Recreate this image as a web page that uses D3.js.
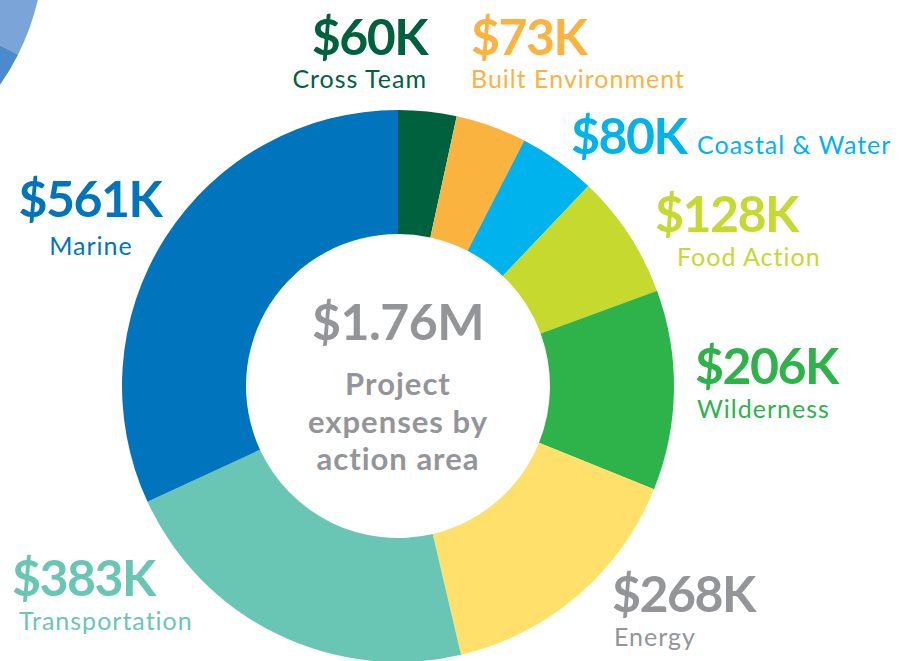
<!DOCTYPE html>
<html>
<head>
<meta charset="utf-8">
<script src="https://cdn.jsdelivr.net/npm/d3@7/dist/d3.min.js"></script>
<style>
  html, body { margin: 0; padding: 0; background: #ffffff; }
  svg { display: block; }
  text { font-family: "Lato", "Century Gothic", "DejaVu Sans", sans-serif; }
</style>
</head>
<body>
<svg id="chart" width="905" height="661"></svg>
<script>
// Project expenses by action area, in thousands of dollars (clockwise from 12 o'clock)
const categories = ["Cross Team", "Built Environment", "Coastal & Water", "Food Action",
                    "Wilderness", "Energy", "Transportation", "Marine"];
const values = [60, 73, 80, 128, 206, 268, 383, 561];
const sliceColors = ["#00613f", "#fbb33f", "#00b3ec", "#c5d92e",
                     "#2db34a", "#ffe06a", "#6ac6b4", "#0074bd"];
const labelColors = ["#00613f", "#fbb33f", "#00b3ec", "#c5d92e",
                     "#2db34a", "#939598", "#6ac6b4", "#0074bd"];
const centerLines = ["Project", "expenses by", "action area"];

// Part of a neighbouring pie that bleeds in at the top-left corner
const neighbourShares = [0.55, 0.45];
const neighbourColors = ["#7ba4d9", "#4b8bcb"];

// Label placement: value line and name line, per category
const labelLayout = [
  { x: 427, vy: 55,  nx: 427, ny: 88,  anchor: "end" },
  { x: 471, vy: 55,  nx: 471, ny: 88,  anchor: "start" },
  { x: 571, vy: 154, nx: 697, ny: 154, anchor: "start" },
  { x: 655, vy: 232, nx: 677, ny: 266, anchor: "start" },
  { x: 695, vy: 384, nx: 697, ny: 418, anchor: "start" },
  { x: 612, vy: 612, nx: 614, ny: 646, anchor: "start" },
  { x: 12,  vy: 596, nx: 19,  ny: 630, anchor: "start" },
  { x: 90,  vy: 217, nx: 91,  ny: 255, anchor: "middle" }
];

const svg = d3.select("#chart");
const cx = 398, cy = 386, outerR = 276, innerR = 152;

// neighbouring pie fragment
const nb = svg.append("g").attr("transform", "translate(-200,-55)");
const nbArc = d3.arc().innerRadius(0).outerRadius(244);
const nbAngles = [Math.PI * 0.5, Math.PI * 0.648, Math.PI * 0.9];
nb.selectAll("path")
  .data(neighbourShares.map((s, i) => ({ startAngle: nbAngles[i], endAngle: nbAngles[i + 1], share: s })))
  .join("path")
  .attr("d", nbArc)
  .attr("fill", (d, i) => neighbourColors[i]);

// donut
const pie = d3.pie().sort(null).value(d => d);
const arc = d3.arc().innerRadius(innerR).outerRadius(outerR);
const g = svg.append("g").attr("transform", `translate(${cx},${cy})`);
g.selectAll("path")
  .data(pie(values))
  .join("path")
  .attr("d", arc)
  .attr("fill", (d, i) => sliceColors[i]);

// labels
const fmtK = v => "$" + v + "K";
categories.forEach((name, i) => {
  const L = labelLayout[i];
  svg.append("text")
    .attr("x", L.x).attr("y", L.vy)
    .attr("text-anchor", L.anchor)
    .attr("font-size", 50).attr("font-weight", 700)
    .attr("letter-spacing", -1.5)
    .attr("fill", labelColors[i])
    .text(fmtK(values[i]));
  svg.append("text")
    .attr("x", L.nx).attr("y", L.ny)
    .attr("text-anchor", L.anchor)
    .attr("font-size", 25).attr("font-weight", 400)
    .attr("letter-spacing", 1)
    .attr("fill", labelColors[i])
    .text(name);
});

// centre total
const total = d3.sum(values);
svg.append("text")
  .attr("x", cx).attr("y", 340)
  .attr("text-anchor", "middle")
  .attr("font-size", 50).attr("font-weight", 700)
  .attr("letter-spacing", -0.5)
  .attr("fill", "#939598")
  .text("$" + (total / 1000).toFixed(2) + "M");
svg.selectAll("text.center")
  .data(centerLines)
  .join("text")
  .attr("class", "center")
  .attr("x", cx)
  .attr("y", (d, i) => 395 + i * 37.5)
  .attr("text-anchor", "middle")
  .attr("font-size", 31).attr("font-weight", 700)
  .attr("letter-spacing", 1)
  .attr("fill", "#939598")
  .text(d => d);
</script>
</body>
</html>
